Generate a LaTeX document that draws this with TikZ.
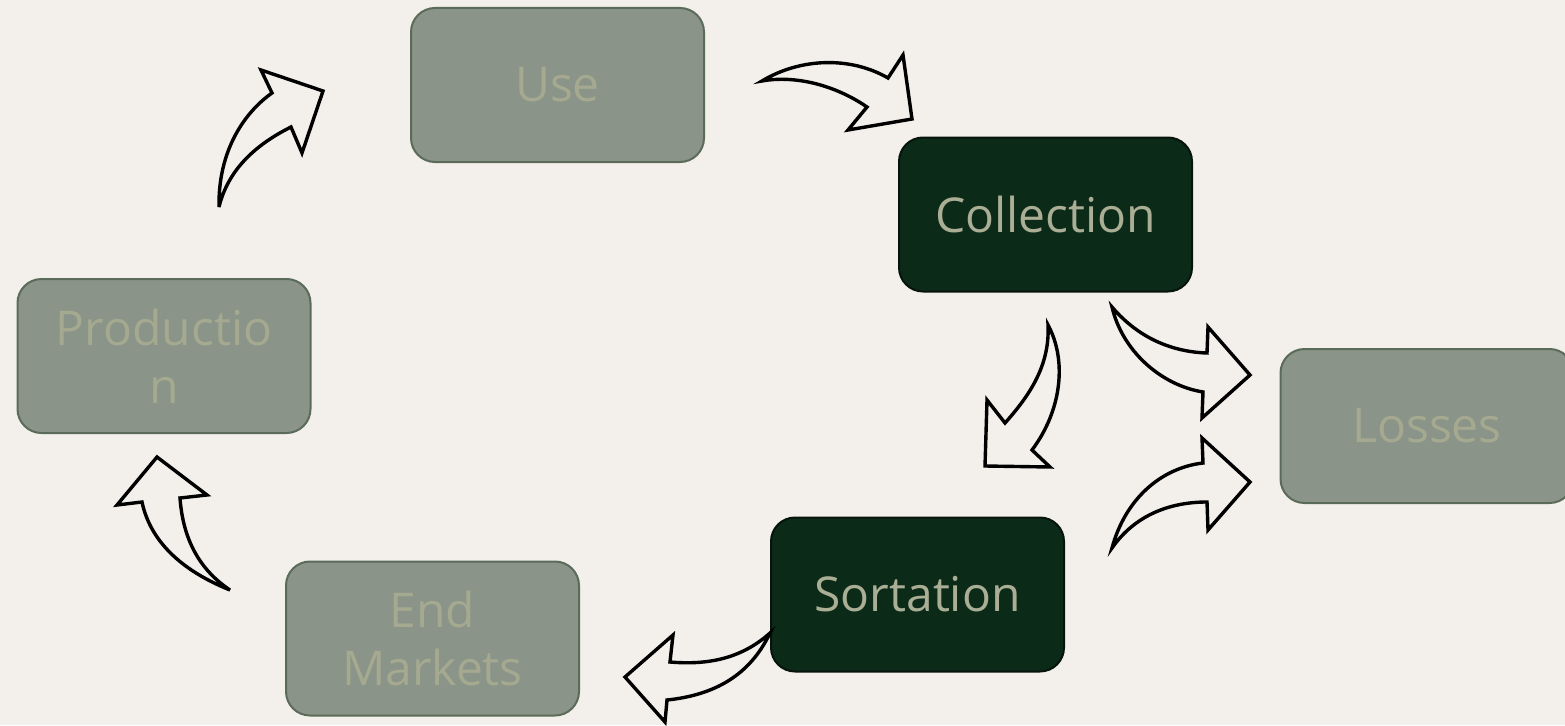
\documentclass[tikz,border=0pt]{standalone}
\usepackage{fontspec}
\setmainfont{Open Sans}
\definecolor{bg}{HTML}{F3F0EB}
\definecolor{lightfill}{HTML}{8A9488}
\definecolor{lightdraw}{HTML}{5B6B5A}
\definecolor{lighttext}{HTML}{A4A98F}
\definecolor{darkfill}{HTML}{0C2A18}
\definecolor{darkdraw}{HTML}{06140B}
\definecolor{darktext}{HTML}{A9AE95}
\tikzset{
  stagebox/.style={rounded corners=24pt, minimum width=293pt, minimum height=154pt,
    line width=2pt, inner sep=0pt, align=center,
    font=\fontsize{48}{58}\selectfont},
  lightbox/.style={stagebox, fill=lightfill, draw=lightdraw, text=lighttext},
  darkbox/.style={stagebox, fill=darkfill, draw=darkdraw, text=darktext},
  blockarrow/.style={draw=black, fill=bg, line width=3.4pt, line join=miter, miter limit=6}
}
\begin{document}
\begin{tikzpicture}[x=1pt,y=-1pt]
\fill[bg] (0,0) rectangle (1565,725);
\useasboundingbox (0,0) rectangle (1565,725);

\node[lightbox] (use) at (557.5,85) {Use};
\node[darkbox] (collection) at (1045.5,214.5) {Collection};
\node[lightbox] (production) at (164,356) {Productio\\n};
\node[lightbox] (losses) at (1427,426) {Losses};
\node[darkbox] (sortation) at (917.5,594.5) {Sortation};
\node[lightbox] (endmarkets) at (432.5,638.5) {End\\Markets};

% Production -> Use
\draw[blockarrow] (219,207) .. controls (218,150) and (245,112) .. (272,93) -- (261,70) -- (323,91) -- (302,153) -- (291,127) .. controls (255,145) and (228,170) .. (219,207) -- cycle;
% Use -> Collection
\draw[blockarrow] (762,81) .. controls (800,58) and (850,56) .. (888,78) -- (903,55) -- (912,119) -- (848,130) -- (867,107) .. controls (835,85) and (795,75) .. (762,81) -- cycle;
% Collection -> Sortation
\draw[blockarrow] (1048,325) .. controls (1067,360) and (1062,410) .. (1032,450) -- (1050,467) -- (985,466) -- (987,400) -- (1005,423) .. controls (1030,395) and (1050,365) .. (1048,325) -- cycle;
% Collection -> Losses
\draw[blockarrow] (1112,307) .. controls (1140,340) and (1175,352) .. (1207,353) -- (1208,327) -- (1250,375) -- (1202,418) -- (1203,392) .. controls (1160,385) and (1122,350) .. (1112,307) -- cycle;
% Sortation -> Losses
\draw[blockarrow] (1112,548) .. controls (1125,500) and (1160,468) .. (1203,463) -- (1202,438) -- (1250,482) -- (1208,530) -- (1207,502) .. controls (1170,502) and (1135,515) .. (1112,548) -- cycle;
% Sortation -> End Markets
\draw[blockarrow] (770,633) .. controls (740,660) and (705,665) .. (670,662) -- (673,635) -- (625,677) -- (665,722) -- (667,700) .. controls (715,695) and (750,675) .. (770,633) -- cycle;
% End Markets -> Production
\draw[blockarrow] (230,590) .. controls (180,570) and (150,540) .. (142,502) -- (117,505) -- (157,457) -- (207,495) -- (180,498) .. controls (183,540) and (200,570) .. (230,590) -- cycle;
\end{tikzpicture}
\end{document}
